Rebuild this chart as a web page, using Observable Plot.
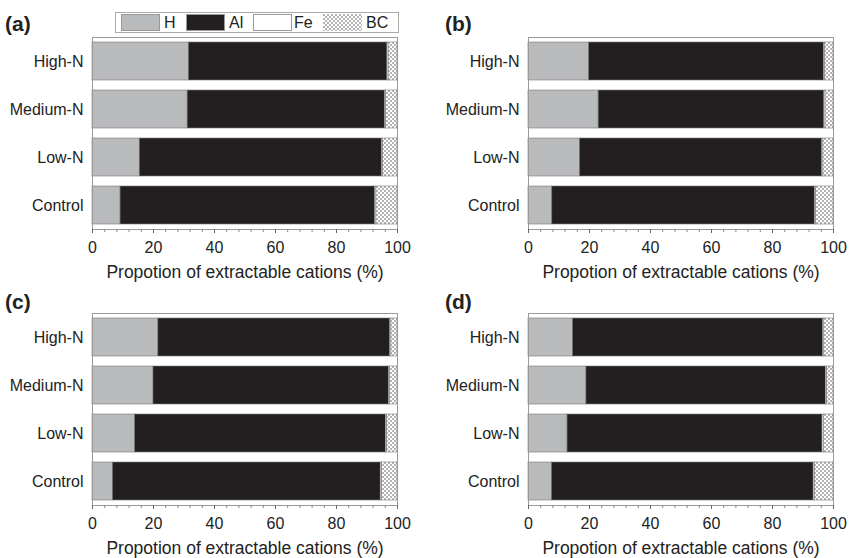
<!DOCTYPE html>
<html>
<head>
<meta charset="utf-8">
<script src="https://cdn.jsdelivr.net/npm/d3@7"></script>
<script src="https://cdn.jsdelivr.net/npm/@observablehq/plot@0.6"></script>
<style>
  html, body { margin: 0; padding: 0; background: #fff; overflow: hidden; }
  body { width: 849px; height: 558px; position: relative; font-family: "Liberation Sans", Arial, sans-serif; color: #222; }
  .panel { position: absolute; }
  .plabel { position: absolute; font-weight: bold; font-size: 21px; line-height: 24px; }
  .legend { position: absolute; left: 115px; top: 12px; width: 282px; height: 19px; border: 1px solid #aaa; box-sizing: content-box; }
  .sw { position: absolute; top: 1px; width: 37px; height: 15px; border: 1px solid #999; }
  .lt { position: absolute; top: 0px; font-size: 16px; line-height: 19px; }
</style>
</head>
<body>
<svg width="0" height="0" style="position:absolute">
  <defs>
    <pattern id="bcHatch" width="4" height="4" patternUnits="userSpaceOnUse">
      <rect width="4" height="4" fill="#ffffff"></rect>
      <rect x="0" y="0" width="2" height="2" fill="#b4b4b4"></rect>
      <rect x="2" y="2" width="2" height="2" fill="#b4b4b4"></rect>
    </pattern>
  </defs>
</svg>
<script>
// ---- data ----
const treatments = ["High-N", "Medium-N", "Low-N", "Control"];
const panelNames = ["(a)", "(b)", "(c)", "(d)"];
const components = ["H", "Al", "Fe", "BC"];
// values per panel, in treatment order
const hValues  = [[31.6, 31.2, 15.5, 9.2], [19.9, 23.0, 16.9, 7.8], [21.6, 20.0, 14.0, 6.7], [14.6, 19.0, 12.8, 7.7]];
const alValues = [[65.1, 64.7, 79.4, 83.5], [77.0, 74.0, 79.4, 86.1], [76.0, 77.2, 82.2, 87.8], [82.0, 78.5, 83.6, 85.8]];
const feValues = [[0.4, 0.4, 0.4, 0.4], [0.4, 0.4, 0.4, 0.4], [0.4, 0.4, 0.4, 0.4], [0.4, 0.4, 0.4, 0.4]];
const bcValues = [[2.9, 3.7, 4.7, 6.9], [2.7, 2.6, 3.3, 5.7], [2.0, 2.4, 3.4, 5.1], [3.0, 2.1, 3.2, 6.1]];
const xMajorTicks = [0, 20, 40, 60, 80, 100];
const xMinorTicks = d3.range(0, 101, 4);
const xLabel = "Propotion of extractable cations (%)";
const componentColors = ["#b9babc", "#231f20", "#ffffff", "url(#bcHatch)"];

const panelPos = [[0, 30], [436, 30], [0, 306], [436, 306]];
const labelPos = [[5, 12], [445, 12], [5, 290], [445, 290]];

const series = [hValues, alValues, feValues, bcValues];

panelNames.forEach((name, p) => {
  const rows = [];
  components.forEach((c, ci) => {
    treatments.forEach((t, ti) => {
      rows.push({treatment: t, component: c, value: series[ci][p][ti]});
    });
  });
  const chart = Plot.plot({
    width: 424,
    height: 260,
    marginLeft: 92,
    marginRight: 27,
    marginTop: 7,
    marginBottom: 61,
    style: {fontFamily: '"Liberation Sans", Arial, sans-serif', fontSize: "16px", color: "#222", background: "transparent", overflow: "visible"},
    x: {domain: [0, 100]},
    y: {domain: treatments, paddingInner: 0.2, paddingOuter: 0.1},
    color: {domain: components, range: componentColors},
    marks: [
      Plot.barX(rows, Plot.stackX({x: "value", y: "treatment", fill: "component", order: null, stroke: "#7a7a7a", strokeWidth: 0.6})),
      Plot.frame({stroke: "#9a9a9a"}),
      Plot.axisX({ticks: xMinorTicks, tickSize: 3, text: null, stroke: "#888", label: null}),
      Plot.axisX({ticks: xMajorTicks, tickSize: 4, tickPadding: 8, stroke: "#666", fontSize: 16, label: null}),
      Plot.axisX({ticks: [], tickSize: 0, label: xLabel, labelAnchor: "center", labelOffset: 48, labelArrow: "none", fontSize: 17.5}),
      Plot.axisY({tickSize: 0, tickPadding: 9, label: null, fontSize: 16})
    ]
  });
  chart.classList.add("panel");
  chart.style.left = panelPos[p][0] + "px";
  chart.style.top = panelPos[p][1] + "px";
  document.body.appendChild(chart);

  const lab = document.createElement("div");
  lab.className = "plabel";
  lab.textContent = name;
  lab.style.left = labelPos[p][0] + "px";
  lab.style.top = labelPos[p][1] + "px";
  document.body.appendChild(lab);
});

// legend
const legend = document.createElement("div");
legend.className = "legend";
const swX = [5, 70, 137, 207];
const txX = [48, 113, 178, 250];
components.forEach((c, i) => {
  const sw = document.createElement("div");
  sw.className = "sw";
  sw.style.left = swX[i] + "px";
  sw.style.background = componentColors[i].startsWith("url") ? "none" : componentColors[i];
  if (componentColors[i].startsWith("url")) {
    sw.style.border = "none";
    sw.innerHTML = '<svg width="39" height="17" style="display:block"><rect width="39" height="17" fill="url(#bcHatch)"></rect></svg>';
  }
  legend.appendChild(sw);
  const tx = document.createElement("div");
  tx.className = "lt";
  tx.style.left = txX[i] + "px";
  tx.textContent = c;
  legend.appendChild(tx);
});
document.body.appendChild(legend);
</script>
</body>
</html>
